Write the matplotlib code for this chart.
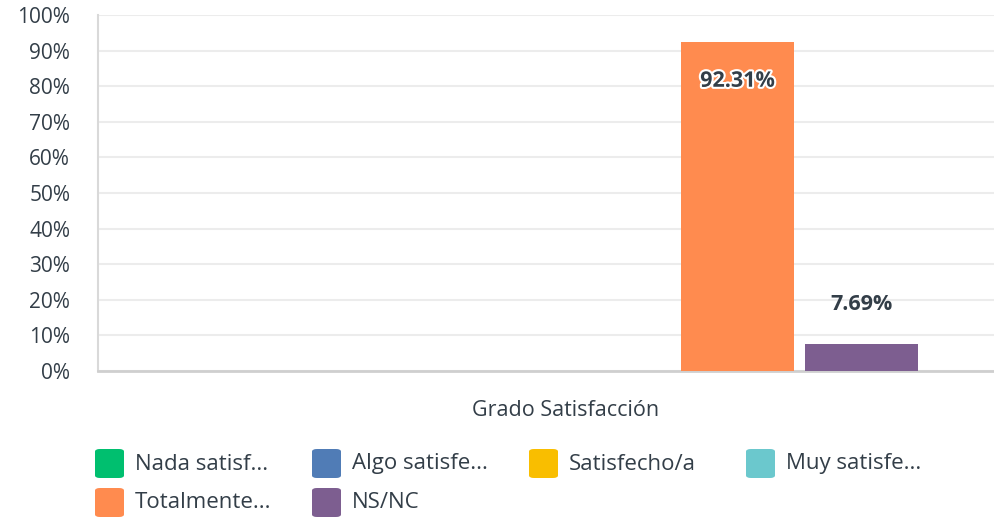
import matplotlib.pyplot as plt
import matplotlib.patheffects as pe
from matplotlib.patches import FancyBboxPatch

series = ["Nada satisf...", "Algo satisfe...", "Satisfecho/a", "Muy satisfe...",
          "Totalmente...", "NS/NC"]
values = [0, 0, 0, 0, 92.31, 7.69]
colors = ["#00bf6f", "#507cb6", "#f9be00", "#6bc8cd", "#ff8b4f", "#7d5e90"]
category = "Grado Satisfacción"
yticks = list(range(0, 101, 10))

txt = "#333e48"
plt.rcParams["font.family"] = ["Open Sans", "DejaVu Sans"]

fig = plt.figure(figsize=(9.94, 5.2), dpi=100)
ax = fig.add_axes([98 / 994, 1 - 371 / 520, 907 / 994, 356 / 520])

slot = 124 / 907
width = 113 / 907
n = len(series)
for i, (name, v, c) in enumerate(zip(series, values, colors)):
    x = (i - (n - 1) / 2) * slot
    ax.bar(x, v, width=width, color=c, zorder=3)
    if v > 0:
        if v > 80:
            t = ax.annotate(f"{v:.2f}%", (x, v), xytext=(0, -28), textcoords="offset points",
                            ha="center", va="center", fontsize=15.5, fontweight="bold", color=txt)
            t.set_path_effects([pe.withStroke(linewidth=3, foreground="white")])
        else:
            ax.annotate(f"{v:.2f}%", (x, v), xytext=(0, 28), textcoords="offset points",
                        ha="center", va="center", fontsize=15.5, fontweight="bold", color=txt)

ax.set_xlim(-0.5, 0.5)
ax.set_ylim(0, 100)
ax.set_yticks(yticks)
ax.set_yticklabels([f"{t}%" for t in yticks], fontsize=15, color=txt)
ax.tick_params(axis="y", length=0, pad=20)
ax.set_xticks([])
ax.grid(axis="y", color="#ececec", linewidth=1.5, zorder=0)
for s in ["top", "right"]:
    ax.spines[s].set_visible(False)
ax.spines["left"].set_color("#d9d9d9")
ax.spines["bottom"].set_color("#cfcfcf")
ax.spines["left"].set_linewidth(1.5)
ax.spines["bottom"].set_linewidth(2)

fig.text(566 / 994, 1 - 410 / 520, category, ha="center", va="center", fontsize=15.5, color=txt)

# legend, 4 per row
for i, (name, c) in enumerate(zip(series, colors)):
    col, row = i % 4, i // 4
    x0 = 95 + col * 217
    y0 = 449 + row * 39
    box = FancyBboxPatch((x0 / 994, 1 - (y0 + 29) / 520), 29 / 994, 29 / 520,
                         boxstyle="round,pad=0,rounding_size=0.005", transform=fig.transFigure,
                         facecolor=c, edgecolor="none")
    fig.patches.append(box)
    fig.text((x0 + 40) / 994, 1 - (y0 + 15) / 520, name, ha="left", va="center",
             fontsize=16, color=txt)

fig.savefig("out.png", dpi=100)
